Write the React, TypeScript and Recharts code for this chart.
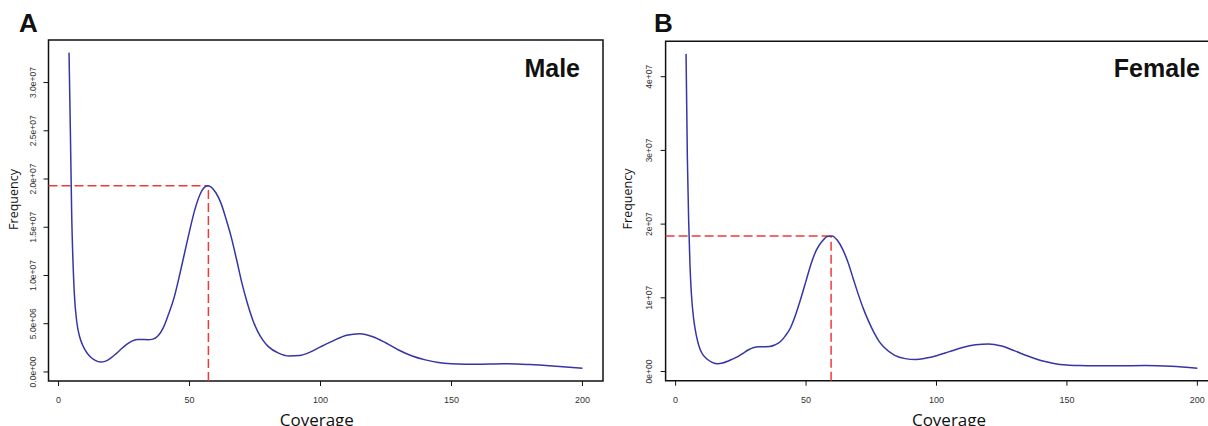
import { LineChart, Line, XAxis, YAxis, ReferenceArea, ReferenceLine, Label } from 'recharts'

// coverage depth (x) shared by both panels
const coverage = [
  4, 4.5, 5, 5.5, 6, 7, 8, 9, 10,
  12, 14, 16, 18, 20, 22, 24, 26, 28, 30, 32, 34, 36, 38, 40, 42, 44, 46, 48, 50, 52, 54, 56,
  57, 58,
  60, 62, 64, 66, 68, 70, 72, 74, 76, 78, 80,
  84, 88, 92, 96, 100,
  105, 110, 115, 120, 125, 130, 135, 140, 145, 150, 155, 160,
  170, 180, 190, 200,
]

// frequency in millions
const maleFreq = [
  33.1, 25.1, 16.5, 11.5, 8.2, 5.1, 3.7, 2.9, 2.35,
  1.6, 1.2, 1.02, 1.12, 1.45, 1.9, 2.4, 2.85, 3.2, 3.35, 3.36, 3.34, 3.4, 3.75, 4.6, 6.0, 7.6, 9.8, 12.2, 14.6, 16.8, 18.4, 19.2,
  19.3, 19.2,
  18.6, 17.5, 15.8, 13.9, 11.6, 9.2, 7.2, 5.5, 4.2, 3.3, 2.65,
  1.95, 1.65, 1.7, 2.05, 2.6,
  3.25, 3.8, 3.96, 3.65, 3.0, 2.25, 1.65, 1.25, 0.97, 0.84, 0.8, 0.81,
  0.86, 0.76, 0.58, 0.37,
]

const femaleFreq = [
  43.1, 29, 20.5, 14.5, 10.8, 6.9, 4.8, 3.4, 2.55,
  1.7, 1.25, 1.05, 1.15, 1.4, 1.72, 2.05, 2.5, 2.95, 3.25, 3.35, 3.36, 3.38, 3.6, 4.0, 4.8, 5.9, 7.7, 9.9, 12.3, 14.7, 16.5, 17.6,
  18.0, 18.3,
  18.4, 17.8, 16.6, 14.9, 12.7, 10.5, 8.5, 6.8, 5.3, 4.1, 3.25,
  2.2, 1.75, 1.62, 1.82, 2.15,
  2.7, 3.25, 3.62, 3.75, 3.45, 2.8, 2.1, 1.5, 1.1, 0.88, 0.8, 0.77,
  0.78, 0.8, 0.7, 0.46,
]

const xTicks = [0, 50, 100, 150, 200]

const maleYTicks = [0, 5e6, 1e7, 1.5e7, 2e7, 2.5e7, 3e7]
const maleYLabels = ['0.0e+00', '5.0e+06', '1.0e+07', '1.5e+07', '2.0e+07', '2.5e+07', '3.0e+07']
const femaleYTicks = [0, 1e7, 2e7, 3e7, 4e7]
const femaleYLabels = ['0e+00', '1e+07', '2e+07', '3e+07', '4e+07']

// [coverage, frequency] of the main peak
const malePeak = [57.2, 19.3e6]
const femalePeak = [59.6, 18.4e6]

const BLUE = '#3535a8'
const RED = '#f03a3a'
const TICK_FONT = '"Liberation Sans", Arial, sans-serif'
const TITLE_FONT = '"Open Sans", "Noto Sans", sans-serif'

// R-style axis range: data range padded by 4% each side
const rPad = (vals: number[]) => {
  const lo = Math.min(...vals)
  const hi = Math.max(...vals)
  const pad = (hi - lo) * 0.04
  return [lo - pad, hi + pad]
}

const yTick = (ticks: number[], labels: string[]) => (props: any) => {
  const { x, y, payload } = props
  const label = labels[ticks.indexOf(payload.value)]
  return (
    <text x={x} y={y} transform={`rotate(-90 ${x} ${y})`} textAnchor="middle"
      fontSize={8.5} fill="#333" fontFamily={TICK_FONT}>{label}</text>
  )
}

function Panel({ freq, yTicks, yLabels, peak, left, width, top, right, yAxisWidth, yTickMargin, xAxisHeight, freqX, freqY, covX }: any) {
  const data = coverage.map((c, i) => ({ coverage: c, freq: freq[i] * 1e6 }))
  const xDomain = rPad(coverage)
  const yDomain = rPad(data.map((d) => d.freq))
  const dash = { stroke: RED, strokeWidth: 1.5, strokeDasharray: '9 4', ifOverflow: 'visible' as const }

  return (
    <div style={{ position: 'absolute', left, top: 0 }}>
      <LineChart width={width} height={426} data={data} margin={{ top, right, left: 0, bottom: 0 }}>
        <XAxis dataKey="coverage" type="number" domain={xDomain} ticks={xTicks} allowDataOverflow
          axisLine={false} tickSize={5} tickMargin={11} tickLine={{ stroke: '#111' }}
          tick={{ fontSize: 9, fill: '#333', fontFamily: TICK_FONT }} height={xAxisHeight}>
          <Label content={() => (
            <text x={covX} y={426} textAnchor="middle" fontSize={17} fill="#111" fontFamily={TITLE_FONT}>Coverage</text>
          )} />
        </XAxis>
        <YAxis type="number" domain={yDomain} ticks={yTicks} allowDataOverflow width={yAxisWidth}
          axisLine={false} tickSize={5} tickMargin={yTickMargin} tickLine={{ stroke: '#111' }}
          tick={yTick(yTicks, yLabels)}>
          <Label content={() => (
            <text x={freqX} y={freqY} transform={`rotate(-90 ${freqX} ${freqY})`} textAnchor="middle"
              fontSize={12.5} fill="#111" fontFamily={TITLE_FONT}>Frequency</text>
          )} />
        </YAxis>
        <ReferenceArea x1={xDomain[0]} x2={xDomain[1]} y1={yDomain[0]} y2={yDomain[1]}
          fill="none" stroke="#111" strokeWidth={1.5} fillOpacity={0} ifOverflow="visible" />
        <ReferenceLine segment={[{ x: xDomain[0], y: peak[1] }, { x: peak[0], y: peak[1] }]} {...dash} />
        <ReferenceLine segment={[{ x: peak[0], y: yDomain[0] }, { x: peak[0], y: peak[1] }]} {...dash} />
        <Line type="monotone" dataKey="freq" stroke={BLUE} strokeWidth={1.5} dot={false} isAnimationActive={false} />
      </LineChart>
    </div>
  )
}

export default function App() {
  const big = { fontFamily: TICK_FONT, fontWeight: 700, fill: '#111' }
  return (
    <div style={{ position: 'absolute', left: 0, top: 0, width: 1208, height: 426, overflow: 'hidden', background: '#fff' }}>
      <Panel freq={maleFreq} yTicks={maleYTicks} yLabels={maleYLabels} peak={malePeak}
        left={0} width={610} top={40} right={7} yAxisWidth={48.5} yTickMargin={7.2} xAxisHeight={45}
        freqX={18.2} freqY={199.5} covX={316.8} />
      <Panel freq={femaleFreq} yTicks={femaleYTicks} yLabels={femaleYLabels} peak={femalePeak}
        left={600} width={630} top={41.3} right={12.2} yAxisWidth={65.6} yTickMargin={8.3} xAxisHeight={45.3}
        freqX={31.6} freqY={199} covX={349} />
      <svg width={1208} height={426} style={{ position: 'absolute', left: 0, top: 0, pointerEvents: 'none' }}>
        <text x={19} y={32} fontSize={26} {...big}>A</text>
        <text x={654} y={32} fontSize={26} {...big}>B</text>
        <text x={580} y={77} fontSize={25} textAnchor="end" {...big}>Male</text>
        <text x={1200} y={77} fontSize={25} textAnchor="end" {...big}>Female</text>
      </svg>
    </div>
  )
}
